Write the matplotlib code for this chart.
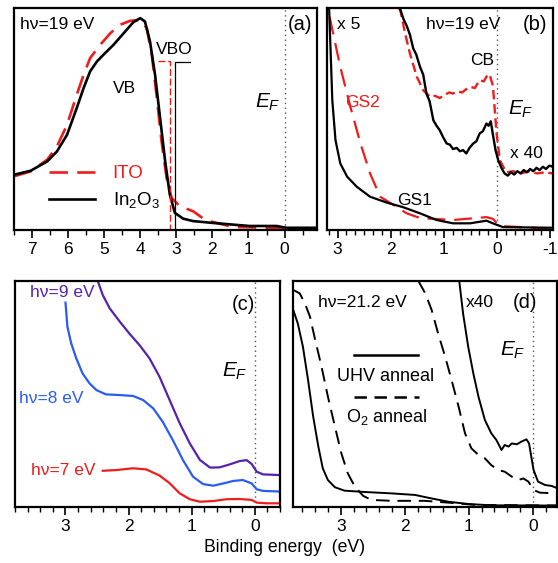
import numpy as np
import matplotlib
matplotlib.use("Agg")
import matplotlib.pyplot as plt
from matplotlib.ticker import MultipleLocator

plt.rcParams['font.family'] = ['Liberation Sans', 'DejaVu Sans']
plt.rcParams['mathtext.fontset'] = 'custom'
plt.rcParams['mathtext.rm'] = 'Liberation Sans'
plt.rcParams['mathtext.it'] = 'Liberation Sans:italic'
plt.rcParams['axes.unicode_minus'] = False

RED = '#ee1c1c'
BLUE = '#2a5cf5'
PURPLE = '#5522b0'

# ---- panel (a): valence band, hv = 19 eV
a_in_E = [7.5, 7.04, 6.58, 6.31, 6.03, 5.76, 5.57, 5.39, 5.2, 5.02, 4.74, 4.46, 4.19, 4.0, 3.87,
          3.73, 3.59, 3.45, 3.31, 3.18, 3.04, 2.81, 2.53, 2.0, 0.97, 0.22, -0.05, -0.9]
a_in_I = [0.249, 0.267, 0.309, 0.354, 0.429, 0.55, 0.64, 0.715, 0.76, 0.79, 0.835, 0.887, 0.937, 0.955, 0.94,
          0.85, 0.70, 0.505, 0.31, 0.159, 0.077, 0.051, 0.04, 0.032, 0.018, 0.018, 0.01, 0.01]
a_ito_E = [7.5, 7.04, 6.58, 6.31, 6.03, 5.76, 5.57, 5.39, 5.11, 4.83, 4.56, 4.28, 4.0, 3.82, 3.68,
           3.54, 3.41, 3.27, 3.13, 2.9, 2.53, 2.2, 1.45, 0.53, -0.9]
a_ito_I = [0.242, 0.264, 0.317, 0.377, 0.474, 0.61, 0.70, 0.775, 0.835, 0.887, 0.925, 0.943, 0.947, 0.91, 0.79,
           0.595, 0.40, 0.234, 0.144, 0.107, 0.084, 0.045, 0.014, 0.01, 0.005]
vbo_ito = 3.18
vbo_in = 3.05

# ---- panel (b): gap states, x5 and x40
b_gs1_E = [3.16, 3.1, 3.04, 2.95, 2.82, 2.64, 2.39, 2.07, 1.77, 1.45, 1.14, 0.83, 0.51, 0.2, 0.08, -0.11, -1.05]
b_gs1_I = [1.0, 0.585, 0.405, 0.30, 0.24, 0.195, 0.15, 0.123, 0.103, 0.075, 0.045, 0.03, 0.03, 0.042, 0.03, 0.013, 0.01]
b_gs2_E = [3.15, 2.95, 2.76, 2.57, 2.39, 2.2, 1.95, 1.7, 1.45, 0.83, 0.2, 0.08, -0.05, -1.05]
b_gs2_I = [0.96, 0.735, 0.555, 0.39, 0.255, 0.15, 0.113, 0.075, 0.054, 0.045, 0.058, 0.05, 0.018, 0.005]
b_cb_in_E = [1.83, 1.76, 1.70, 1.64, 1.58, 1.52, 1.45, 1.39, 1.33, 1.27, 1.2, 1.14, 1.08, 1.02, 0.95,
             0.89, 0.83, 0.76, 0.70, 0.64, 0.58, 0.52, 0.45, 0.39, 0.33, 0.27, 0.2, 0.16, 0.12, 0.08,
             0.03, -0.02, -0.08, -0.14, -0.2, -0.26, -0.32, -0.38, -0.44, -0.5, -0.56, -0.62, -0.68,
             -0.74, -0.8, -0.86, -0.92, -0.98, -1.05]
b_cb_in_I = [1.0, 0.95, 0.92, 0.88, 0.82, 0.79, 0.735, 0.70, 0.615, 0.58, 0.495, 0.47, 0.45, 0.42, 0.39,
             0.385, 0.365, 0.37, 0.355, 0.36, 0.345, 0.37, 0.39, 0.40, 0.435, 0.445, 0.48, 0.47, 0.49, 0.43,
             0.36, 0.315, 0.28, 0.255, 0.245, 0.26, 0.25, 0.265, 0.255, 0.27, 0.26, 0.275, 0.265,
             0.28, 0.27, 0.285, 0.275, 0.29, 0.285]
b_cb_ito_E = [1.85, 1.82, 1.73, 1.64, 1.51, 1.39, 1.26, 1.17, 1.08, 0.98, 0.9, 0.83, 0.75, 0.66, 0.58,
              0.5, 0.42, 0.33, 0.25, 0.18, 0.14, 0.08, 0.01, -0.05, -0.17, -0.3, -0.45, -0.6, -0.75,
              -0.9, -1.05]
b_cb_ito_I = [1.0, 0.99, 0.885, 0.795, 0.69, 0.63, 0.60, 0.605, 0.595, 0.61, 0.62, 0.615, 0.625, 0.62, 0.635,
              0.645, 0.64, 0.675, 0.67, 0.70, 0.70, 0.65, 0.435, 0.315, 0.26, 0.265, 0.255, 0.265, 0.255,
              0.26, 0.255]

# ---- panel (c): photon energy dependence
c_9eV_E = [2.49, 2.41, 2.3, 2.14, 1.99, 1.83, 1.67, 1.51, 1.35, 1.19, 1.03, 0.87, 0.71, 0.56, 0.4,
           0.24, 0.13, 0.05, -0.03, -0.13, -0.4]
c_9eV = [1.0, 0.937, 0.878, 0.819, 0.767, 0.716, 0.657, 0.575, 0.472, 0.369, 0.28, 0.207, 0.173, 0.174, 0.187,
         0.202, 0.206, 0.189, 0.155, 0.143, 0.14]
c_8eV_E = [3.0, 2.97, 2.91, 2.83, 2.73, 2.62, 2.51, 2.36, 2.14, 1.93, 1.77, 1.61, 1.46, 1.3, 1.14,
           0.98, 0.82, 0.66, 0.5, 0.34, 0.19, 0.05, -0.03, -0.13, -0.4]
c_8eV = [0.903, 0.797, 0.723, 0.657, 0.59, 0.546, 0.516, 0.497, 0.494, 0.49, 0.472, 0.435, 0.376, 0.295, 0.207,
         0.133, 0.10, 0.093, 0.103, 0.114, 0.118, 0.103, 0.077, 0.07, 0.067]
c_7eV_E = [2.41, 2.2, 1.93, 1.72, 1.51, 1.35, 1.19, 1.03, 0.87, 0.66, 0.45, 0.24, 0.05, -0.03, -0.19, -0.4]
c_7eV = [0.159, 0.162, 0.17, 0.165, 0.138, 0.104, 0.059, 0.033, 0.022, 0.025, 0.033, 0.034, 0.03, 0.018, 0.015, 0.015]

# ---- panel (d): UHV vs O2 anneal, hv = 21.2 eV
d_uhv_E = [3.74, 3.67, 3.59, 3.51, 3.43, 3.35, 3.28, 3.2, 3.09, 2.94, 2.62, 2.21, 1.84, 1.59, 1.32, 1.01, 0.65, -0.4]
d_uhv_I = [0.87, 0.811, 0.708, 0.561, 0.399, 0.267, 0.17, 0.118, 0.086, 0.071, 0.065, 0.059, 0.052, 0.037, 0.022,
           0.012, 0.006, 0.005]
d_o2_E = [3.74, 3.64, 3.56, 3.48, 3.41, 3.3, 3.2, 3.09, 2.99, 2.89, 2.78, 2.65, 2.52, 2.21, 1.69, 1.32, 0.9, -0.4]
d_o2_I = [0.959, 0.944, 0.90, 0.841, 0.752, 0.62, 0.487, 0.354, 0.236, 0.148, 0.089, 0.048, 0.03, 0.026, 0.026,
          0.018, 0.008, 0.005]
d_o2x40_E = [1.79, 1.68, 1.58, 1.48, 1.37, 1.27, 1.16, 1.06, 0.96, 0.85, 0.75, 0.65, 0.54, 0.44, 0.33, 0.23,
             0.15, 0.07, -0.01, -0.11, -0.39]
d_o2x40_I = [1.0, 0.944, 0.87, 0.767, 0.664, 0.561, 0.443, 0.325, 0.258, 0.229, 0.214, 0.184, 0.162, 0.155, 0.133,
             0.118, 0.125, 0.111, 0.074, 0.062, 0.059]
d_uhvx40_E = [1.15, 1.09, 1.01, 0.93, 0.85, 0.75, 0.65, 0.57, 0.49, 0.44, 0.38, 0.33, 0.25, 0.18, 0.1, 0.06,
              -0.01, -0.08, -0.19, -0.29, -0.39]
d_uhvx40_I = [1.0, 0.855, 0.708, 0.59, 0.487, 0.384, 0.325, 0.295, 0.251, 0.273, 0.266, 0.28, 0.276, 0.288, 0.298,
              0.28, 0.163, 0.111, 0.096, 0.092, 0.081]

fig = plt.figure(figsize=(5.58, 5.63), dpi=100)
axa = fig.add_axes([0.0251, 0.5915, 0.543, 0.394])
axb = fig.add_axes([0.586, 0.5915, 0.405, 0.394])
axc = fig.add_axes([0.0269, 0.100, 0.475, 0.4014])
axd = fig.add_axes([0.5245, 0.100, 0.473, 0.4014])

FS = 12.5


def style(ax, xlim, minor, ticks):
    ax.set_xlim(*xlim)
    ax.set_ylim(0, 1)
    ax.set_yticks([])
    ax.set_xticks(ticks)
    ax.xaxis.set_minor_locator(MultipleLocator(minor))
    ax.tick_params(axis='x', which='major', direction='out', length=6, width=1.2, labelsize=FS, pad=3)
    ax.tick_params(axis='x', which='minor', direction='out', length=3.5, width=1.0)
    for s in ax.spines.values():
        s.set_linewidth(1.6)
    ax.axvline(0, color='#555555', lw=1.0, ls=(0, (1, 2.5)), zorder=0)


# (a)
style(axa, (7.5, -0.9), 0.5, [7, 6, 5, 4, 3, 2, 1, 0])
axa.plot(a_ito_E, a_ito_I, color=RED, lw=1.9, dashes=(7, 3.5), label='ITO')
axa.plot(a_in_E, a_in_I, color='black', lw=1.9, label='In$_2$O$_3$')
axa.plot([vbo_ito + 0.33, vbo_ito, vbo_ito], [0.762, 0.762, 0.0], color=RED, lw=1.0, dashes=(5, 2))
axa.plot([vbo_in, vbo_in, vbo_in - 0.42], [0.0, 0.758, 0.758], color='black', lw=0.9)
axa.text(0.02, 0.925, 'h\u03bd=19 eV', transform=axa.transAxes, fontsize=FS, va='center')
axa.text(0.985, 0.925, '(a)', transform=axa.transAxes, fontsize=14.5, va='center', ha='right')
axa.text(4.75, 0.64, 'VB', fontsize=FS, va='center')
axa.text(3.56, 0.812, 'VBO', fontsize=FS, va='center', ha='left')
axa.text(0.11, 0.577, '$E_F$', fontsize=15, va='center', ha='right')
axa.legend(loc='center left', bbox_to_anchor=(0.115, 0.19), frameon=False, fontsize=13.5,
           borderpad=0, borderaxespad=0, handlelength=2.45, handletextpad=0.95, labelspacing=0.42,
           labelcolor=[RED, 'black'])

# (b)
style(axb, (3.2, -1.05), 1 / 6, [3, 2, 1, 0, -1])
axb.plot(b_gs2_E, b_gs2_I, color=RED, lw=1.6, dashes=(8, 4))
axb.plot(b_gs1_E, b_gs1_I, color='black', lw=1.6)
axb.plot(b_cb_ito_E, b_cb_ito_I, color=RED, lw=1.7, dashes=(4, 2))
axb.plot(b_cb_in_E, b_cb_in_I, color='black', lw=1.7)
axb.text(0.045, 0.925, 'x 5', transform=axb.transAxes, fontsize=FS, va='center')
axb.text(1.33, 0.925, 'h\u03bd=19 eV', fontsize=FS, va='center')
axb.text(0.975, 0.925, '(b)', transform=axb.transAxes, fontsize=14.5, va='center', ha='right')
axb.text(0.5, 0.765, 'CB', fontsize=FS, va='center')
axb.text(2.85, 0.575, 'GS2', fontsize=FS, va='center', color=RED)
axb.text(-0.2, 0.545, '$E_F$', fontsize=15, va='center')
axb.text(-0.25, 0.345, 'x 40', fontsize=FS, va='center')
axb.text(1.88, 0.135, 'GS1', fontsize=FS, va='center')

# (c)
style(axc, (3.8, -0.4), 0.2, [3, 2, 1, 0])
axc.plot(c_9eV_E, c_9eV, color=PURPLE, lw=1.6)
axc.plot(c_8eV_E, c_8eV, color=BLUE, lw=1.6)
axc.plot(c_7eV_E, c_7eV, color=RED, lw=1.6)
axc.text(3.57, 0.95, 'h\u03bd=9 eV', fontsize=FS, va='center', color=PURPLE)
axc.text(3.73, 0.48, 'h\u03bd=8 eV', fontsize=FS, va='center', color=BLUE)
axc.text(3.54, 0.16, 'h\u03bd=7 eV', fontsize=FS, va='center', color=RED)
axc.text(0.905, 0.895, '(c)', transform=axc.transAxes, fontsize=14.5, va='center', ha='right')
axc.text(0.11, 0.60, '$E_F$', fontsize=15, va='center', ha='right')

# (d)
style(axd, (3.75, -0.37), 0.2, [3, 2, 1, 0])
axd.plot(d_uhv_E, d_uhv_I, color='black', lw=1.4)
axd.plot(d_o2_E, d_o2_I, color='black', lw=1.4, dashes=(7, 4))
axd.plot(d_uhvx40_E, d_uhvx40_I, color='black', lw=1.4)
axd.plot(d_o2x40_E, d_o2x40_I, color='black', lw=1.4, dashes=(7, 4))
axd.text(0.097, 0.905, 'h\u03bd=21.2 eV', transform=axd.transAxes, fontsize=FS, va='center')
axd.text(1.04, 0.905, 'x40', fontsize=FS, va='center')
axd.text(0.925, 0.905, '(d)', transform=axd.transAxes, fontsize=14.5, va='center', ha='right')
axd.text(0.12, 0.69, '$E_F$', fontsize=15, va='center', ha='right')
axd.plot([0.231, 0.475], [0.671, 0.671], color='black', lw=1.8, transform=axd.transAxes)
axd.text(0.352, 0.575, 'UHV anneal', transform=axd.transAxes, fontsize=13, va='center', ha='center')
axd.plot([0.231, 0.48], [0.484, 0.484], color='black', lw=1.8, dashes=(5, 3), transform=axd.transAxes)
axd.text(0.357, 0.398, 'O$_2$ anneal', transform=axd.transAxes, fontsize=13, va='center', ha='center')

fig.text(0.51, 0.027, 'Binding energy  (eV)', fontsize=12.7, ha='center', va='center')

fig.savefig('out.png', dpi=100)
